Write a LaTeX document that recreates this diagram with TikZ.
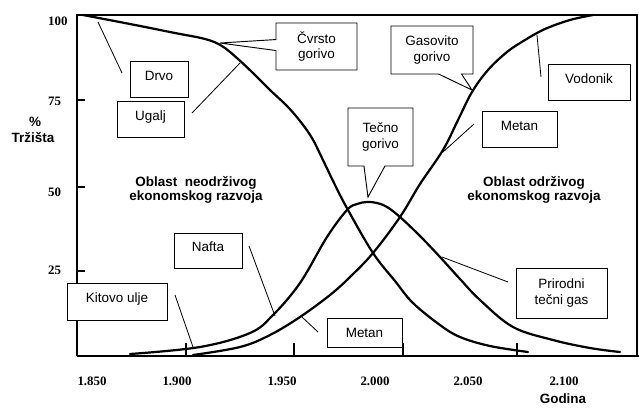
\documentclass[tikz,border=0pt]{standalone}
\usepackage{fontspec}
\setmainfont{Liberation Serif}
\setsansfont{Liberation Sans}
\usetikzlibrary{shapes.callouts}

\begin{document}
\begin{tikzpicture}[x=0.03cm,y=-0.03cm,
  lbl/.style={draw,fill=white,line width=0.8pt,inner sep=0pt,align=center,
    font=\sffamily\fontsize{11.5}{13.5}\selectfont},
  lblgore/.style={lbl,text depth=6pt},
  callbox/.style={lbl,rectangle callout},
  kriva/.style={line width=1.9pt,line join=round,line cap=round},
  pok/.style={line width=0.7pt},
  osa/.style={font=\bfseries\fontsize{11}{13}\selectfont},
  oblast/.style={align=center,font=\sffamily\bfseries\fontsize{11.5}{12.5}\selectfont}]
  \useasboundingbox (0,0) rectangle (639,407);

  \draw[line width=1.3pt] (77,356) -- (77,15) -- (637,15) -- (637,356);
  \draw[line width=1.3pt] (77,356) -- (639,356);
  \foreach \y in {100,187,271} \draw[line width=1pt] (77,\y) -- ++(8,0);
  \foreach \x in {186,294,403,517} \draw[line width=1pt] (\x,356) -- ++(0,-13);

  \foreach \t/\y in {100/21,75/101,50/192,25/270}
    \node[osa,anchor=west] (y\t) at (44,\y) {\t};
  \foreach \t/\x [count=\i] in {1.850/92,1.900/177,1.950/282,2.000/375,2.050/468,2.100/564}
    \node[osa] (x\i) at (\x,381) {\t};
  \node[oblast] (pct) at (35,122) {\%};
  \node[oblast] (trz) at (33,138) {Tržišta};
  \node[oblast] (god) at (563,399) {Godina};

  \node[oblast] (neodr) at (196,190) {Oblast\ \ neodrživog\\ekonomskog razvoja};
  \node[oblast] (odr) at (534,190) {Oblast održivog\\ekonomskog razvoja};

  \coordinate (cvrstoVrh) at (220,43);
  \coordinate (gasVrh) at (472,90);
  \coordinate (tecnoVrh) at (368,197);

  \node[lblgore,minimum width=1.74cm,minimum height=1.08cm] (drvo) at (159,79) {Drvo};
  \node[lblgore,minimum width=2.01cm,minimum height=1.08cm] (ugalj) at (150.5,119) {Ugalj};
  \node[callbox,minimum width=2.43cm,minimum height=1.41cm,callout absolute pointer=(cvrstoVrh),
    callout pointer width=0.33cm] (cvrsto) at (316.5,46.5) {Čvrsto\\gorivo};
  \node[callbox,minimum width=2.46cm,minimum height=1.44cm,callout absolute pointer=(gasVrh),
    callout pointer width=0.69cm] (gas) at (432,50) {Gasovito\\gorivo};
  \node[lblgore,minimum width=2.46cm,minimum height=1.08cm] (vodonik) at (589,82) {Vodonik};
  \node[lblgore,minimum width=2.25cm,minimum height=1.08cm] (metanG) at (519.5,129) {Metan};
  \node[callbox,minimum width=1.95cm,minimum height=1.74cm,callout absolute pointer=(tecnoVrh),
    callout pointer width=0.63cm] (tecno) at (380.5,137) {Tečno\\gorivo};
  \node[lblgore,minimum width=2.04cm,minimum height=1.05cm] (nafta) at (208,250.5) {Nafta};
  \node[lblgore,minimum width=3cm,minimum height=1.11cm] (kitovo) at (117,301.5) {Kitovo ulje};
  \node[lbl,minimum width=2.25cm,minimum height=0.87cm] (metanD) at (364.5,332.5) {Metan};
  \node[lbl,minimum width=2.73cm,minimum height=1.5cm] (prirodni) at (561.5,293) {Prirodni\\tečni gas};

  \draw[kriva] plot[smooth,tension=0.6] coordinates {(83,15) (130,24) (175,33) (205,39) (222,46)
    (238,59) (255,75) (270,90) (287,106) (300,121) (312,138) (322,158) (335,185) (348,210)
    (373,253) (395,281) (413,303) (440,325) (460,337) (490,346) (528,352)};
  \draw[kriva] plot[smooth,tension=0.6] coordinates {(193,355) (240,347) (270,335) (300,317)
    (330,295) (350,277) (373,253) (400,217) (420,184) (443,150) (458,120) (472,92) (488,70)
    (507,52) (525,40) (545,29) (570,20) (593,15)};
  \draw[kriva] plot[smooth,tension=0.6] coordinates {(130,354) (200,347) (250,333) (273,315)
    (300,283) (327,237) (347,210) (357,204) (367,202) (377,203) (387,207) (400,217) (420,236)
    (440,257) (460,279) (480,300) (513,327) (553,340) (590,348) (620,352)};

  \coordinate (drvoA) at (98,22);      \coordinate (drvoB) at (122,73);
  \coordinate (ugaljA) at (192,113);   \coordinate (ugaljB) at (240,63);
  \coordinate (vodA) at (541,77);      \coordinate (vodB) at (537,35);
  \coordinate (metGA) at (474,124);    \coordinate (metGB) at (443,152);
  \coordinate (naftaA) at (249,246);   \coordinate (naftaB) at (275,316);
  \coordinate (kitA) at (175,295);     \coordinate (kitB) at (193,347);
  \coordinate (metDA) at (318,332);    \coordinate (metDB) at (302,317);
  \coordinate (prirA) at (508,282);    \coordinate (prirB) at (442,257);
  \foreach \a/\b in {drvoA/drvoB,ugaljA/ugaljB,vodA/vodB,metGA/metGB,naftaA/naftaB,kitA/kitB,metDA/metDB,prirA/prirB}
    \draw[pok] (\a) -- (\b);
\end{tikzpicture}
\end{document}
